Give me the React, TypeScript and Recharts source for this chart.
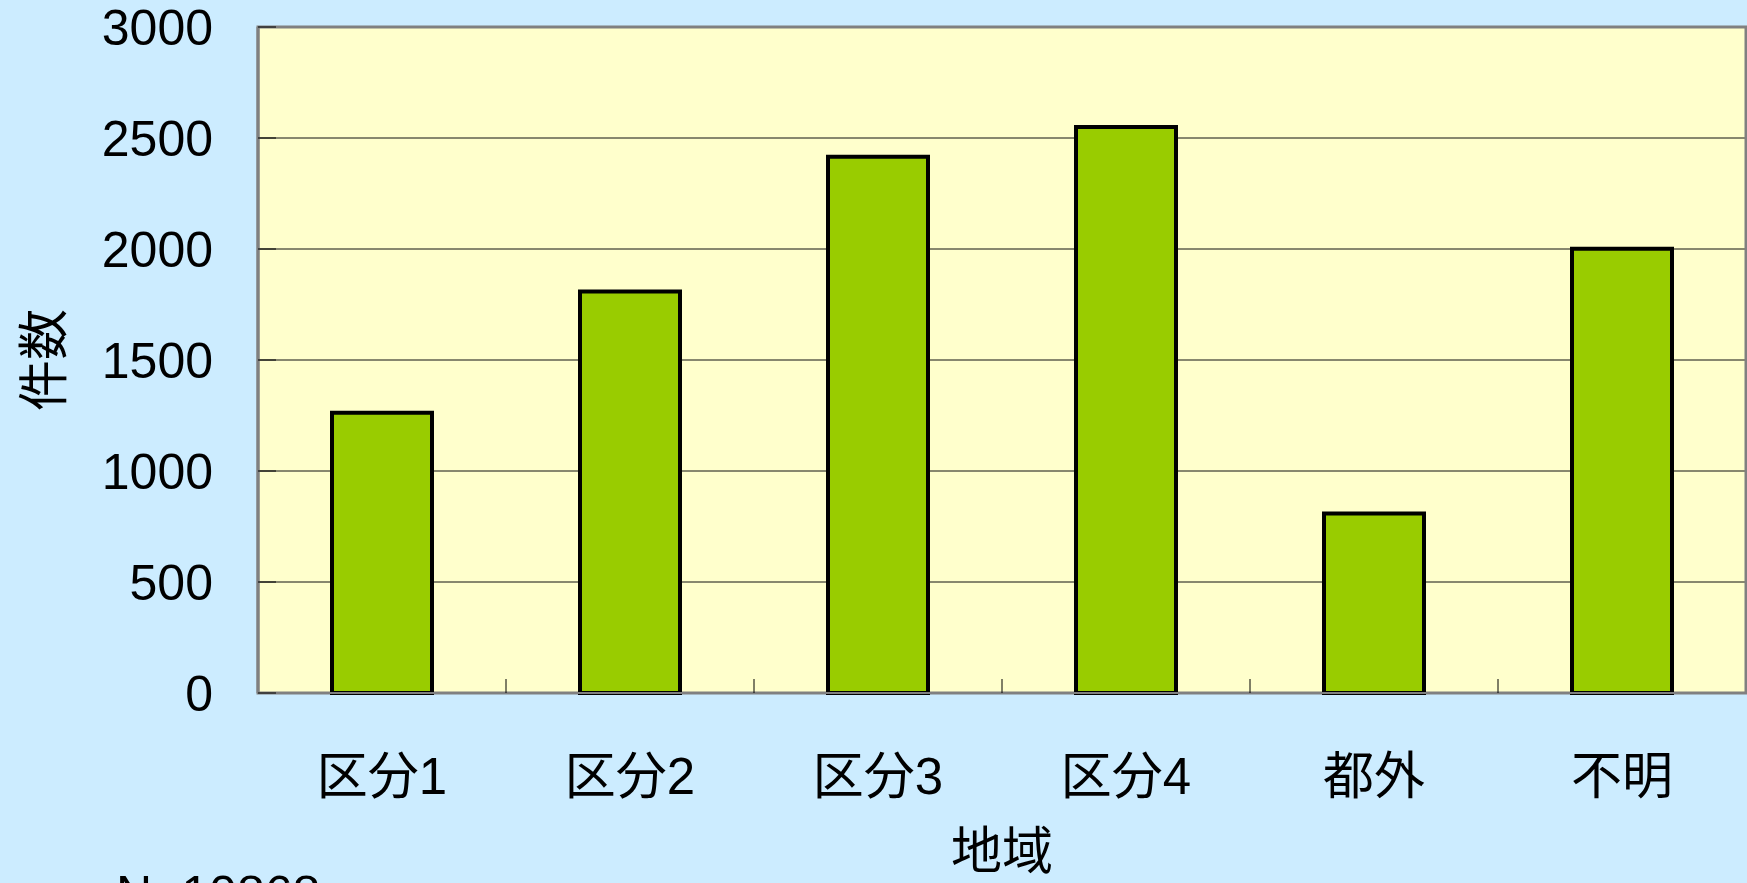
import { BarChart, Bar, XAxis, YAxis, CartesianGrid, ReferenceArea, Label } from 'recharts';

const regions = ['区分1', '区分2', '区分3', '区分4', '都外', '不明'];
const counts = [1262, 1809, 2415, 2550, 809, 2001];
const yTicks = [0, 500, 1000, 1500, 2000, 2500, 3000];
const totalLabel = 'N=10868';

const data = regions.map((region, i) => ({ region, count: counts[i] }));

const W = 1747;
const H = 883;
const PLOT_LEFT = 258;
const PLOT_RIGHT = 1746;
const PLOT_TOP = 27;
const PLOT_BOTTOM = 693;
const FONT = '"Liberation Sans", Arial, "Noto Sans CJK JP", sans-serif';

// category label plus the short inward tick at the left edge of each band
function RegionTick(props: any) {
  const { x, y, payload, index } = props;
  const band = (PLOT_RIGHT - PLOT_LEFT) / regions.length;
  return (
    <g>
      {index > 0 && (
        <line x1={x - band / 2} x2={x - band / 2} y1={y} y2={y - 14} stroke="#000" strokeWidth={1} />
      )}
      <text x={x} y={y + 101} textAnchor="middle" fontSize={51} fill="#000" fontFamily={FONT}>
        {payload.value}
      </text>
    </g>
  );
}

export default function App() {
  return (
    <div style={{ position: 'absolute', left: 0, top: 0, width: W, height: H, background: '#CCECFF' }}>
      <BarChart
        width={W}
        height={H}
        data={data}
        margin={{ top: PLOT_TOP, right: W - PLOT_RIGHT, bottom: 0, left: 0 }}
        barSize={100}
      >
        <CartesianGrid vertical={false} stroke="#111" fill="#FFFFCC" fillOpacity={1} />
        <XAxis
          dataKey="region"
          height={H - PLOT_BOTTOM}
          interval={0}
          tickLine={false}
          tickSize={0}
          tickMargin={0}
          axisLine={{ stroke: '#808080', strokeWidth: 2 }}
          tick={<RegionTick />}
        >
          <Label
            content={() => (
              <text x={(PLOT_LEFT + PLOT_RIGHT) / 2} y={869} textAnchor="middle" fontSize={51} fill="#000" fontFamily={FONT}>
                地域
              </text>
            )}
          />
          <Label
            content={() => (
              <text x={116} y={911} textAnchor="start" fontSize={50} fill="#000" fontFamily={FONT}>
                {totalLabel}
              </text>
            )}
          />
        </XAxis>
        <YAxis
          width={PLOT_LEFT}
          domain={[0, 3000]}
          ticks={yTicks}
          interval={0}
          tickSize={-18}
          tickMargin={63}
          tickLine={{ stroke: '#000' }}
          axisLine={{ stroke: '#808080', strokeWidth: 3 }}
          tick={{ fontSize: 50, fill: '#000', fontFamily: FONT }}
        >
          <Label
            content={() => (
              <text
                x={44}
                y={360}
                transform="rotate(-90 44 360)"
                textAnchor="middle"
                dominantBaseline="central"
                fontSize={51}
                fill="#000"
                fontFamily={FONT}
              >
                件数
              </text>
            )}
          />
        </YAxis>
        <Bar dataKey="count" fill="#99CC00" stroke="#000" strokeWidth={4} isAnimationActive={false} />
        <ReferenceArea y1={0} y2={3000} fill="none" stroke="#808080" strokeWidth={3} />
      </BarChart>
    </div>
  );
}
